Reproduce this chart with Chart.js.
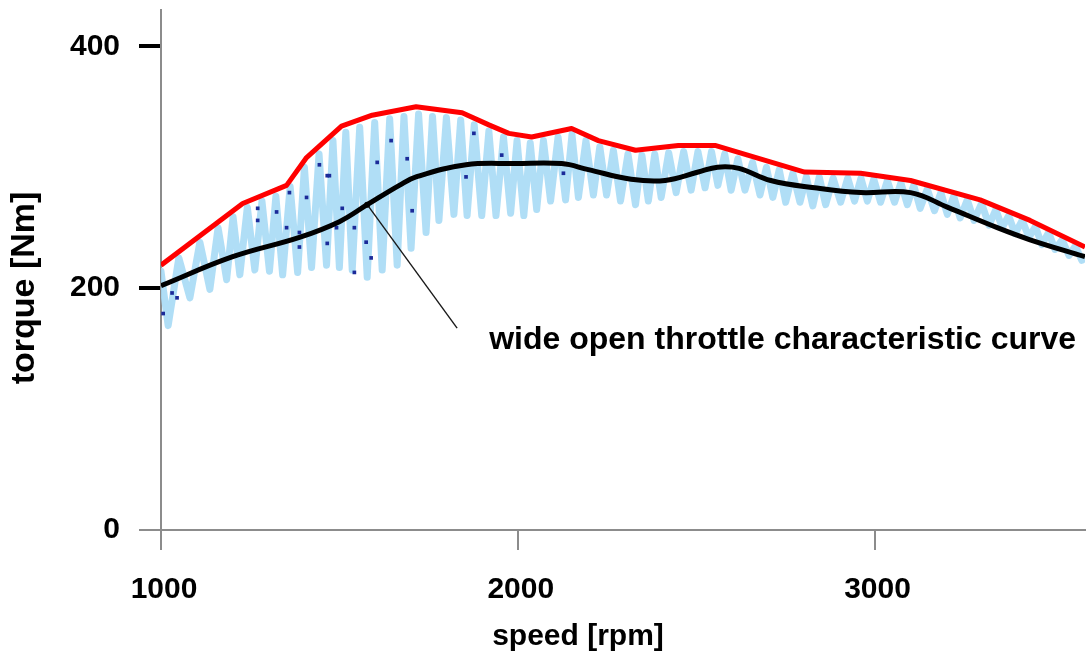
<!DOCTYPE html>
<html>
<head>
<meta charset="utf-8">
<title>torque vs speed</title>
<script src="https://cdn.jsdelivr.net/npm/chart.js@4.4.1/dist/chart.umd.min.js"></script>
<style>
  html, body { margin: 0; padding: 0; background: #ffffff; }
  #wrap { width: 1089px; height: 657px; position: relative; }
</style>
</head>
<body>
<div id="wrap"><canvas id="chart"></canvas></div>
<script>
// Axis ticks
const xTicks = [1000, 2000, 3000];
const yTicks = [0, 200, 400];

// Upper envelope of the measured torque (red)
const envelopeRpm    = [1000, 1229, 1352, 1408, 1506, 1592, 1715, 1844, 1919, 1975, 2039, 2151, 2226, 2330, 2450, 2553, 2804, 2961, 3101, 3296, 3436, 3590];
const envelopeTorque = [ 219,  270,  285,  308,  334,  343,  350,  345,  335,  328,  325,  332,  322,  314,  318,  318,  296,  295,  289,  273,  256,  234];

// Wide open throttle characteristic curve (black)
const wotRpm    = [1000, 1201, 1388, 1500, 1578, 1668, 1715, 1855, 1994, 2123, 2198, 2318, 2413, 2506, 2560, 2620, 2709, 2832, 2961, 3101, 3204, 3344, 3436, 3590];
const wotTorque = [ 202,  226,  242,  255,  269,  285,  292,  302,  303,  303,  298,  290,  289,  296,  300,  299,  289,  283,  279,  279,  267,  250,  240,  226];

// Oscillating measured torque trace (light blue), alternating maxima and minima
const measRpm = [
  1000, 1020, 1050, 1081, 1109, 1137, 1160, 1184, 1202, 1221, 1242, 1263, 1283, 1304, 1322, 1341,
  1362, 1383, 1402, 1422, 1443, 1464, 1482, 1500, 1518, 1536, 1557, 1578, 1599, 1620, 1641, 1662,
  1681, 1701, 1722, 1743, 1761, 1779, 1800, 1821, 1840, 1858, 1878, 1899, 1919, 1939, 1960, 1980,
  1998, 2017, 2035, 2053, 2072, 2092, 2113, 2134, 2152, 2170, 2191, 2212, 2230, 2249, 2268, 2288,
  2309, 2330, 2348, 2366, 2384, 2402, 2423, 2444, 2465, 2486, 2505, 2525, 2543, 2561, 2580, 2598,
  2617, 2637, 2658, 2679, 2697, 2715, 2733, 2751, 2771, 2791, 2809, 2827, 2845, 2863, 2884, 2905,
  2925, 2944, 2962, 2980, 2998, 3017, 3036, 3056, 3074, 3092, 3110, 3128, 3148, 3168, 3186, 3204,
  3222, 3240, 3260, 3279, 3300, 3321, 3340, 3358, 3376, 3394, 3414, 3433, 3451, 3469, 3488, 3506,
  3526, 3545, 3563, 3581
];
const measTorque = [
   214,  169,  225,  192,  238,  199,  250,  207,  259,  211,  267,  215,  272,  214,  276,  211,
   284,  213,  300,  217,  311,  219,  322,  217,  329,  215,  333,  209,  337,  215,  340,  219,
   342,  233,  344,  246,  342,  256,  341,  261,  339,  260,  335,  260,  330,  260,  325,  262,
   322,  260,  320,  265,  322,  272,  325,  273,  327,  275,  322,  277,  317,  277,  314,  272,
   311,  269,  310,  272,  311,  275,  312,  279,  313,  281,  313,  283,  313,  285,  311,  281,
   307,  281,  304,  277,  300,  275,  298,  271,  295,  271,  292,  268,  292,  269,  291,  271,
   291,  272,  291,  272,  290,  271,  289,  271,  287,  269,  285,  266,  282,  264,  279,  261,
   276,  258,  273,  256,  270,  252,  265,  250,  260,  245,  256,  242,  251,  236,  246,  232,
   240,  227,  235,  223
];

// Individual dark measurement samples
const spotRpm    = [1006, 1031, 1045, 1271, 1271, 1324, 1352, 1360, 1388, 1388, 1408, 1444, 1466, 1466, 1472, 1492, 1508, 1542, 1542, 1575, 1589, 1606, 1645, 1690, 1704, 1855, 1877, 1955, 2128];
const spotTorque = [ 179,  196,  192,  266,  256,  263,  250,  279,  234,  246,  275,  302,  293,  237,  293,  250,  266,  250,  213,  238,  225,  304,  322,  307,  264,  292,  328,  310,  295];

// Leader line from the curve to its label
const leaderRpm    = [1578, 1830];
const leaderTorque = [269, 167];
const noteText = 'wide open throttle characteristic curve';
const noteRpm = 1920;
const noteTorque = 157;

// Axis titles
const xTitle = 'speed [rpm]';
const yTitle = 'torque [Nm]';

const pts = (xs, ys) => xs.map((x, i) => ({ x: x, y: ys[i] }));

const FONT = "'Liberation Sans', Arial, Helvetica, sans-serif";
const AXIS_GRAY = '#8c8c8c';

// Curve label and axis titles drawn on the canvas
const textPlugin = {
  id: 'chartTexts',
  afterDraw(chart) {
    const { ctx, scales } = chart;
    ctx.save();
    ctx.fillStyle = '#000';
    ctx.textBaseline = 'middle';

    ctx.font = 'bold 32px ' + FONT;
    ctx.textAlign = 'left';
    ctx.fillText(noteText, scales.x.getPixelForValue(noteRpm), scales.y.getPixelForValue(noteTorque));

    ctx.font = 'bold 30px ' + FONT;
    ctx.textAlign = 'center';
    ctx.fillText(xTitle, 578, 637);

    ctx.font = 'bold 34px ' + FONT;
    ctx.translate(25, 288);
    ctx.rotate(-Math.PI / 2);
    ctx.fillText(yTitle, 0, 0);
    ctx.restore();
  }
};

new Chart(document.getElementById('chart'), {
  type: 'line',
  data: {
    datasets: [
      {
        label: 'leader',
        data: pts(leaderRpm, leaderTorque),
        borderColor: '#1a1a1a',
        borderWidth: 1.4,
        pointRadius: [3, 0],
        pointBackgroundColor: '#000',
        pointBorderWidth: 0,
        tension: 0
      },
      {
        label: 'envelope',
        data: pts(envelopeRpm, envelopeTorque),
        borderColor: '#ff0000',
        borderWidth: 5,
        borderJoinStyle: 'round',
        pointRadius: 0,
        tension: 0
      },
      {
        label: 'wide open throttle',
        data: pts(wotRpm, wotTorque),
        borderColor: '#000000',
        borderWidth: 5,
        pointRadius: 0,
        tension: 0.4
      },
      {
        label: 'samples',
        data: pts(spotRpm, spotTorque),
        showLine: false,
        pointStyle: 'rect',
        pointRadius: 2.6,
        pointBackgroundColor: '#1b2a99',
        pointBorderWidth: 0
      },
      {
        label: 'measured',
        data: pts(measRpm, measTorque),
        borderColor: 'rgba(165,218,245,0.88)',
        borderWidth: 7,
        borderJoinStyle: 'round',
        borderCapStyle: 'round',
        pointRadius: 0,
        tension: 0
      }
    ]
  },
  options: {
    responsive: true,
    maintainAspectRatio: false,
    animation: false,
    layout: { padding: { top: 10, right: 2, left: 0, bottom: 0 } },
    plugins: { legend: { display: false }, tooltip: { enabled: false } },
    scales: {
      x: {
        type: 'linear',
        min: 1000,
        max: 3590,
        afterBuildTicks: s => { s.ticks = xTicks.map(v => ({ value: v })); },
        afterFit: s => { s.height = 127; s.paddingLeft = 0; s.paddingRight = 0; },
        ticks: {
          font: { family: FONT, size: 30, weight: 'bold' },
          color: '#000',
          padding: 22,
          labelOffset: 3,
          maxRotation: 0,
          autoSkip: false,
          callback: v => String(v)
        },
        grid: { drawOnChartArea: false, drawTicks: true, tickLength: 20, color: AXIS_GRAY, lineWidth: 2 },
        border: { display: true, color: AXIS_GRAY, width: 2 }
      },
      y: {
        type: 'linear',
        min: 0,
        max: 430,
        afterBuildTicks: s => { s.ticks = yTicks.map(v => ({ value: v })); },
        afterFit: s => { s.width = 161; s.paddingTop = 0; s.paddingBottom = 0; },
        ticks: {
          font: { family: FONT, size: 30, weight: 'bold' },
          color: '#000',
          padding: 19,
          callback: v => String(v)
        },
        grid: {
          drawOnChartArea: false,
          drawTicks: true,
          tickLength: 22,
          color: c => (c.tick && c.tick.value === 0 ? AXIS_GRAY : '#000'),
          lineWidth: c => (c.tick && c.tick.value === 0 ? 2 : 4)
        },
        border: { display: true, color: AXIS_GRAY, width: 2 }
      }
    }
  },
  plugins: [textPlugin]
});
</script>
</body>
</html>
